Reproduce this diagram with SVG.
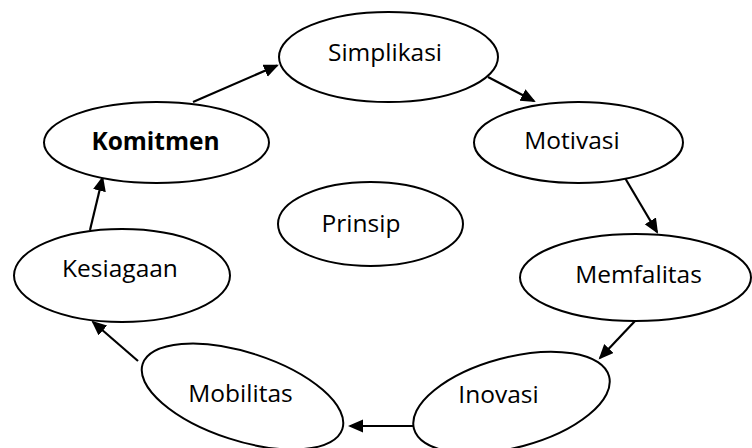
<svg xmlns="http://www.w3.org/2000/svg" width="752" height="448" viewBox="0 0 752 448">
<defs>
<style>
.n ellipse{fill:#fff;stroke:#000;stroke-width:2}
.n text{font-family:"Open Sans","Noto Sans",sans-serif;font-size:24.5px;fill:#000;text-anchor:middle}
.b{font-weight:bold}
.c line{stroke:#000;stroke-width:2.2;marker-end:url(#ah)}
</style>
<marker id="ah" markerUnits="userSpaceOnUse" markerWidth="16" markerHeight="14" refX="13" refY="6.5" orient="auto">
<path d="M0,0 L15,6.5 L0,13 Z" fill="#000"/>
</marker>
</defs>
<rect width="752" height="448" fill="#fff"/>
<g class="c" id="connectors">
<line x1="193" y1="102" x2="277" y2="65.5"/>
<line x1="488" y1="77" x2="534" y2="101"/>
<line x1="625" y1="178" x2="657" y2="232"/>
<line x1="635" y1="321" x2="600" y2="358"/>
<line x1="413" y1="426" x2="350" y2="426"/>
<line x1="138" y1="361" x2="93" y2="322"/>
<line x1="90" y1="230" x2="102.5" y2="178"/>
</g>
<g class="n" id="simplikasi"><ellipse cx="388.5" cy="57" rx="109.5" ry="45"/><text x="385" y="61">Simplikasi</text></g>
<g class="n" id="komitmen"><ellipse cx="156.5" cy="142.5" rx="112.5" ry="40.5"/><text class="b" x="155.5" y="150">Komitmen</text></g>
<g class="n" id="motivasi"><ellipse cx="578.5" cy="142.5" rx="104.5" ry="40.5"/><text x="572" y="149">Motivasi</text></g>
<g class="n" id="prinsip"><ellipse cx="370.5" cy="224" rx="92.5" ry="42"/><text x="361" y="232">Prinsip</text></g>
<g class="n" id="kesiagaan"><ellipse cx="122" cy="275.5" rx="108" ry="46.5"/><text x="120" y="277">Kesiagaan</text></g>
<g class="n" id="memfalitas"><ellipse cx="635.5" cy="277.5" rx="115.5" ry="43.5"/><text x="638.5" y="283">Memfalitas</text></g>
<g class="n" id="mobilitas"><ellipse cx="242.5" cy="396.5" rx="105" ry="44" transform="rotate(18 242.5 396.5)"/><text x="240.5" y="402">Mobilitas</text></g>
<g class="n" id="inovasi"><ellipse cx="511.5" cy="402.5" rx="101" ry="45" transform="rotate(-15 511.5 402.5)"/><text x="498.5" y="403">Inovasi</text></g>
</svg>
